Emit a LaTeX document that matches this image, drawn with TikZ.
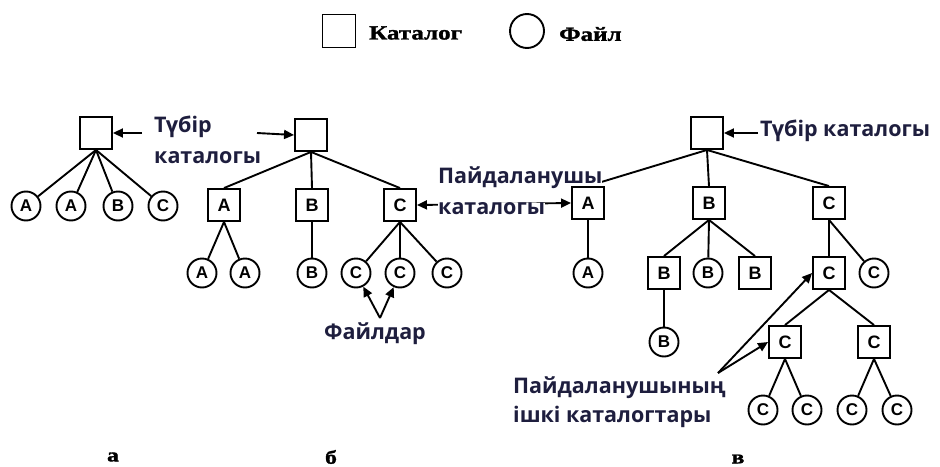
\documentclass[tikz,border=0pt]{standalone}
\usepackage{fontspec}
\setmainfont{Liberation Serif}
\newfontfamily\capfont{Open Sans}
\newfontfamily\keyfont{Liberation Sans}
\newfontfamily\legfont[FakeStretch=1.25,FakeBold=1.5]{Liberation Serif}
\usetikzlibrary{arrows.meta}
\pgfdeclarelayer{background}
\pgfsetlayers{background,main}
\definecolor{capcol}{RGB}{30,30,62}

\begin{document}
\begin{tikzpicture}[x=1pt,y=-1pt,
  dirbox/.style={draw, fill=white, line width=1.9pt, minimum size=32pt, inner sep=0pt,
    font=\keyfont\bfseries\fontsize{18}{18}\selectfont},
  filenode/.style={draw, fill=white, circle, line width=1.9pt, minimum size=29pt, inner sep=0pt,
    font=\keyfont\bfseries\fontsize{17}{17}\selectfont},
  edge/.style={line width=1.9pt},
  pointer/.style={line width=1.9pt, -{Triangle[length=10pt,width=9pt]}},
  twoway/.style={line width=1.9pt, {Triangle[length=10pt,width=9pt]}-{Triangle[length=10pt,width=9pt]}},
  caption/.style={font=\capfont\bfseries\fontsize{21.5}{24}\selectfont, text=capcol, inner sep=0pt},
  legtext/.style={font=\legfont\bfseries\fontsize{20}{20}\selectfont, inner sep=0pt},
  partlabel/.style={font=\legfont\bfseries\fontsize{19}{19}\selectfont, inner sep=0pt}
]
\useasboundingbox (0,0) rectangle (940,466);

% legend
\node[dirbox, minimum size=33pt] (kdir) at (339,31) {};
\node[legtext, anchor=west] (kdirtxt) at (369,33) {Каталог};
\node[filenode, minimum size=34pt] (kfile) at (527,31) {};
\node[legtext, anchor=west] (kfiletxt) at (559,34) {Файл};

% captions (drawn before the tree nodes so boxes stay on top)
\node[caption, anchor=west] (atx1) at (154,127) {Түбір};
\node[caption, anchor=west] (atx2) at (154,158) {каталогы};
\node[caption] (ftx) at (375,334) {Файлдар};
\node[caption, anchor=west, fill=white] (utx1) at (438,178) {Пайдаланушы};
\node[caption, anchor=west, fill=white] (utx2) at (438,209) {каталогы};
\node[caption, anchor=west] (ctx) at (760,131) {Түбір каталогы};
\node[caption, anchor=west] (stx1) at (513,388) {Пайдаланушының};
\node[caption, anchor=west] (stx2) at (513,417) {ішкі каталогтары};

% tree (a): single-level
\node[dirbox] (a0) at (96,133) {};
\node[filenode] (a1) at (26,206) {A};
\node[filenode] (a2) at (71,206) {A};
\node[filenode] (a3) at (118,206) {B};
\node[filenode] (a4) at (163,206) {C};

% tree (b): two-level
\node[dirbox] (b0) at (311,135) {};
\node[dirbox] (bA) at (224,205) {A};
\node[dirbox] (bB) at (312,205) {B};
\node[dirbox] (bC) at (400,205) {C};
\node[filenode] (bA1) at (202,273) {A};
\node[filenode] (bA2) at (245,273) {A};
\node[filenode] (bB1) at (312,273) {B};
\node[filenode] (bC1) at (356,273) {C};
\node[filenode] (bC2) at (400,273) {C};
\node[filenode] (bC3) at (447,273) {C};

% tree (c): hierarchical
\node[dirbox] (c0) at (707,133) {};
\node[dirbox] (cA) at (588,203) {A};
\node[dirbox] (cB) at (709,203) {B};
\node[dirbox] (cC) at (829,203) {C};
\node[filenode] (cA1) at (588,273) {A};
\node[dirbox] (cB1) at (664,273) {B};
\node[filenode] (cB2) at (708,273) {B};
\node[dirbox] (cB3) at (755,273) {B};
\node[dirbox] (cC1) at (829,273) {C};
\node[filenode] (cC2) at (874,273) {C};
\node[filenode] (cB11) at (664,342) {B};
\node[dirbox] (cC11) at (785,342) {C};
\node[dirbox] (cC12) at (874,342) {C};
\node[filenode] (cL1) at (763,410) {C};
\node[filenode] (cL2) at (807,410) {C};
\node[filenode] (cL3) at (852,410) {C};
\node[filenode] (cL4) at (897,410) {C};

% part labels
\node[partlabel] (pa) at (113,457) {а};
\node[partlabel] (pb) at (331,457) {б};
\node[partlabel] (pc) at (738,459) {в};

% pointer anchors
\coordinate (aptr) at (142,133);
\coordinate (bptr) at (257,133);
\coordinate (cptr) at (758,133);
\coordinate (fapex) at (380,318);
\coordinate (sapex) at (718,373);

\begin{pgfonlayer}{background}
  \foreach \n in {a1,a2,a3,a4} \draw[edge] (a0.south) -- (\n);
  \foreach \n in {bA,bB,bC} \draw[edge] (b0.south) -- (\n.north);
  \foreach \n in {bA1,bA2} \draw[edge] (bA.south) -- (\n);
  \draw[edge] (bB.south) -- (bB1);
  \foreach \n in {bC1,bC2,bC3} \draw[edge] (bC.south) -- (\n);
  \foreach \n in {cA,cB,cC} \draw[edge] (c0.south) -- (\n.north);
  \draw[edge] (cA.south) -- (cA1);
  \draw[edge] (cB.south) -- (cB1.north);
  \draw[edge] (cB.south) -- (cB2);
  \draw[edge] (cB.south) -- (cB3.north);
  \draw[edge] (cC.south) -- (cC1.north);
  \draw[edge] (cC.south) -- (cC2);
  \draw[edge] (cB1.south) -- (cB11);
  \draw[edge] (cC1.south) -- (cC11.north);
  \draw[edge] (cC1.south) -- (cC12.north);
  \draw[edge] (cC11.south) -- (cL1);
  \draw[edge] (cC11.south) -- (cL2);
  \draw[edge] (cC12.south) -- (cL3);
  \draw[edge] (cC12.south) -- (cL4);
  \draw[twoway] (bC.east) -- (cA.west);
\end{pgfonlayer}

\draw[pointer] (aptr) -- (a0.east);
\draw[pointer] (bptr) -- (b0.west);
\draw[pointer] (cptr) -- (c0.east);
\draw[pointer] (fapex) -- (bC1);
\draw[pointer] (fapex) -- (bC2);
\draw[pointer] (sapex) -- (cC1.west);
\draw[pointer] (sapex) -- (cC11.west);
\end{tikzpicture}
\end{document}
